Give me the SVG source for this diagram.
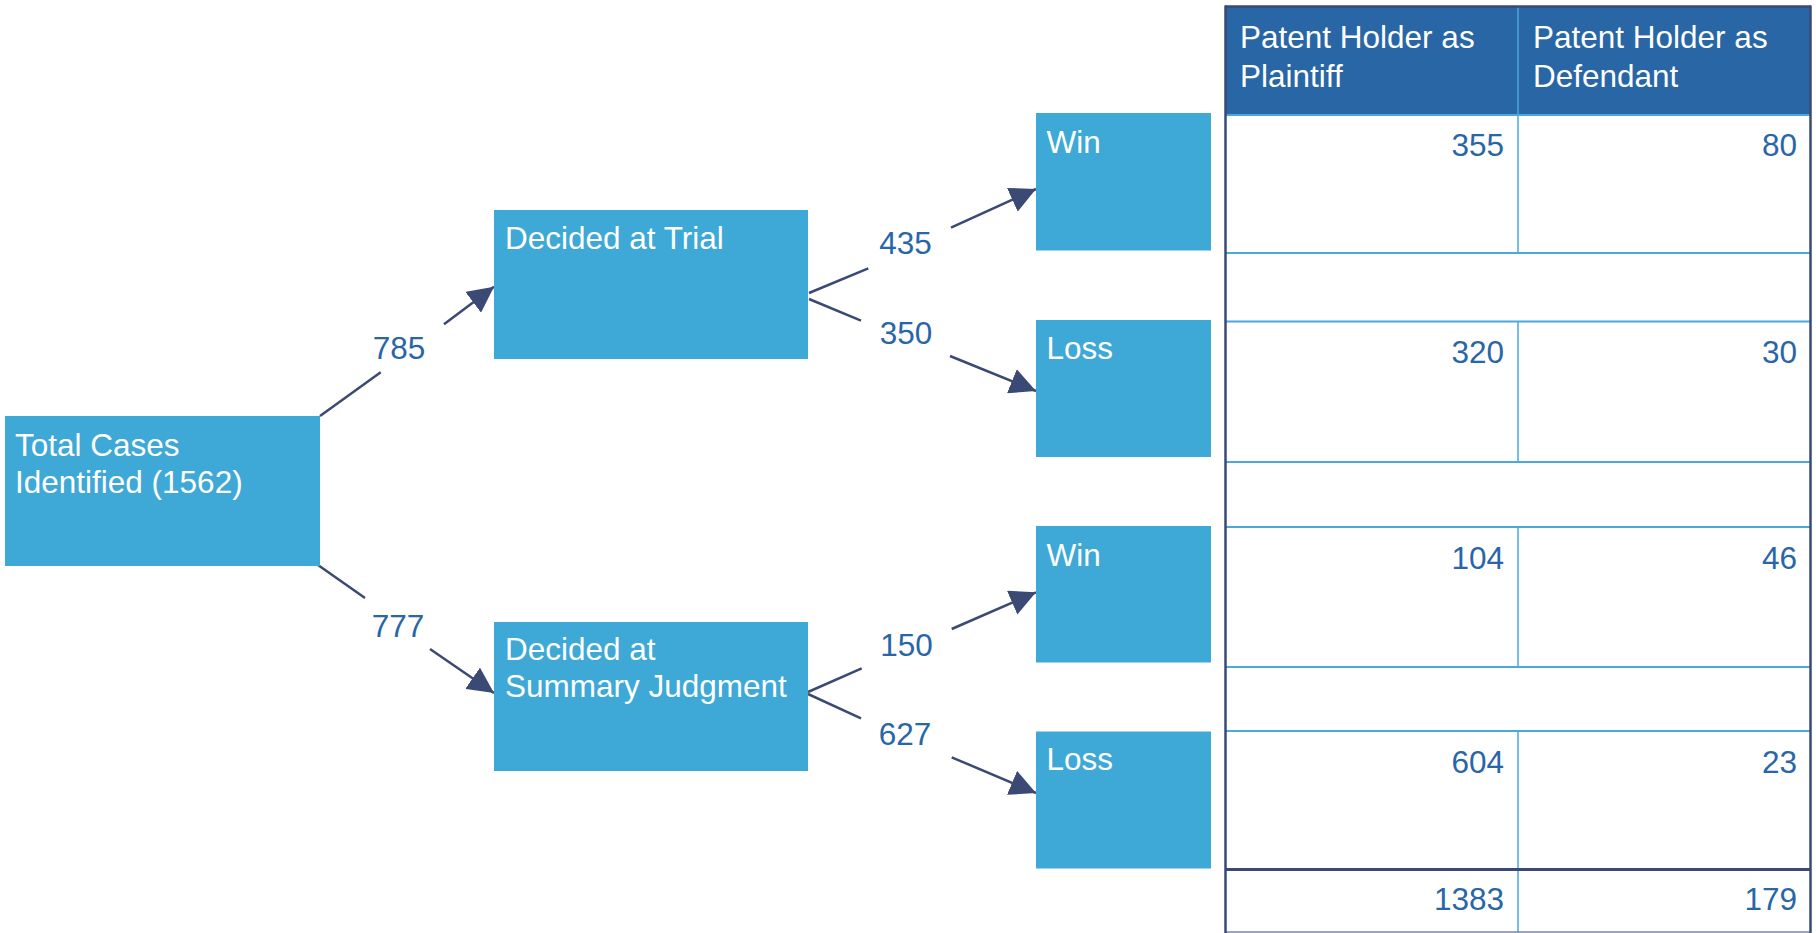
<svg xmlns="http://www.w3.org/2000/svg" width="1816" height="933" viewBox="0 0 1816 933">
<style>
.box{fill:#3EA8D6}
.bt{font-family:"Liberation Sans",Arial,sans-serif;font-size:31.5px;fill:#ffffff}
.num{font-family:"Liberation Sans",Arial,sans-serif;font-size:31.5px;fill:#2866A8}
.lbl{font-family:"Liberation Sans",Arial,sans-serif;font-size:31.5px;fill:#2866A8;text-anchor:middle}
.cell{font-family:"Liberation Sans",Arial,sans-serif;font-size:31.5px;fill:#2866A8;text-anchor:end}
.conn{fill:none;stroke:#3A4A74;stroke-width:2.5;marker-end:url(#arr)}
.sep{stroke:#4AA8DC;stroke-width:2}
.vdiv{stroke:#4AA8DC;stroke-width:1.5}
.border{stroke:#3A4A74;stroke-width:2.5}
</style>
<defs>
<marker id="arr" markerUnits="userSpaceOnUse" markerWidth="26" markerHeight="26" refX="26" refY="13" orient="auto" viewBox="0 0 26 26">
<path d="M0,0 L26,13 L0,26 z" fill="#3A4A74"/>
</marker>
</defs>
<rect width="1816" height="933" fill="#ffffff"/>

<g id="connectors">
<path class="conn" d="M320,416 L380.7,372.3 M444,324.3 L494,286.7"/>
<path class="conn" d="M318,565 L365,598 M430,649 L494,693"/>
<path class="conn" d="M809,293 L868.3,268.3 M951,227.7 L1036,189"/>
<path class="conn" d="M809,299 L861,320.7 M950,356 L1036,391"/>
<path class="conn" d="M808,692 L861.7,668.3 M951.7,629 L1036,592.3"/>
<path class="conn" d="M808,694 L861,718.3 M951.7,757.3 L1036,793"/>
<text class="lbl" x="399" y="359">785</text>
<text class="lbl" x="398" y="637">777</text>
<text class="lbl" x="905.5" y="254.3">435</text>
<text class="lbl" x="906" y="344.3">350</text>
<text class="lbl" x="906.5" y="656">150</text>
<text class="lbl" x="905" y="745">627</text>
</g>

<g id="total">
<rect class="box" x="5" y="416" width="315" height="150"/>
<text class="bt" x="15" y="455.5">Total Cases</text>
<text class="bt" x="15" y="492.5">Identified (1562)</text>
</g>
<g id="trial">
<rect class="box" x="494" y="210" width="314" height="149"/>
<text class="bt" x="505" y="249">Decided at Trial</text>
</g>
<g id="summary">
<rect class="box" x="494" y="622" width="314" height="149"/>
<text class="bt" x="505" y="660">Decided at</text>
<text class="bt" x="505" y="697">Summary Judgment</text>
</g>
<g id="win1">
<rect class="box" x="1036" y="113" width="175" height="137.5"/>
<text class="bt" x="1046.5" y="152.5">Win</text>
</g>
<g id="loss1">
<rect class="box" x="1036" y="320" width="175" height="137"/>
<text class="bt" x="1046.5" y="358.5">Loss</text>
</g>
<g id="win2">
<rect class="box" x="1036" y="526" width="175" height="136.5"/>
<text class="bt" x="1046.5" y="565.5">Win</text>
</g>
<g id="loss2">
<rect class="box" x="1036" y="731.5" width="175" height="137"/>
<text class="bt" x="1046.5" y="770">Loss</text>
</g>

<g id="table">
<rect x="1225" y="6.5" width="586" height="108.5" fill="#2866A5"/>
<line class="vdiv" x1="1518" y1="6.5" x2="1518" y2="115"/>
<text class="bt" x="1240" y="48.3">Patent Holder as</text>
<text class="bt" x="1240" y="86.7">Plaintiff</text>
<text class="bt" x="1533" y="48.3">Patent Holder as</text>
<text class="bt" x="1533" y="86.7">Defendant</text>
<line class="sep" x1="1225" y1="115" x2="1811" y2="115"/>
<line class="sep" x1="1225" y1="253" x2="1811" y2="253"/>
<line class="sep" x1="1225" y1="321.5" x2="1811" y2="321.5"/>
<line class="sep" x1="1225" y1="462" x2="1811" y2="462"/>
<line class="sep" x1="1225" y1="527" x2="1811" y2="527"/>
<line class="sep" x1="1225" y1="667" x2="1811" y2="667"/>
<line class="sep" x1="1225" y1="731" x2="1811" y2="731"/>
<line class="vdiv" x1="1518" y1="115" x2="1518" y2="253"/>
<line class="vdiv" x1="1518" y1="321.5" x2="1518" y2="462"/>
<line class="vdiv" x1="1518" y1="527" x2="1518" y2="667"/>
<line class="vdiv" x1="1518" y1="731" x2="1518" y2="933"/>
<line x1="1225" y1="869.5" x2="1811" y2="869.5" stroke="#3A4A74" stroke-width="3"/>
<line x1="1225" y1="932" x2="1811" y2="932" stroke="#7A88A8" stroke-width="1.5"/>
<line class="border" x1="1225" y1="6.5" x2="1811" y2="6.5"/>
<line class="border" x1="1225.5" y1="5.5" x2="1225.5" y2="933"/>
<line class="border" x1="1810.5" y1="5.5" x2="1810.5" y2="933"/>
<text class="cell" x="1504" y="156">355</text>
<text class="cell" x="1797" y="156">80</text>
<text class="cell" x="1504" y="362.5">320</text>
<text class="cell" x="1797" y="362.5">30</text>
<text class="cell" x="1504" y="568.5">104</text>
<text class="cell" x="1797" y="568.5">46</text>
<text class="cell" x="1504" y="773">604</text>
<text class="cell" x="1797" y="773">23</text>
<text class="cell" x="1504" y="910">1383</text>
<text class="cell" x="1797" y="910">179</text>
</g>
</svg>
